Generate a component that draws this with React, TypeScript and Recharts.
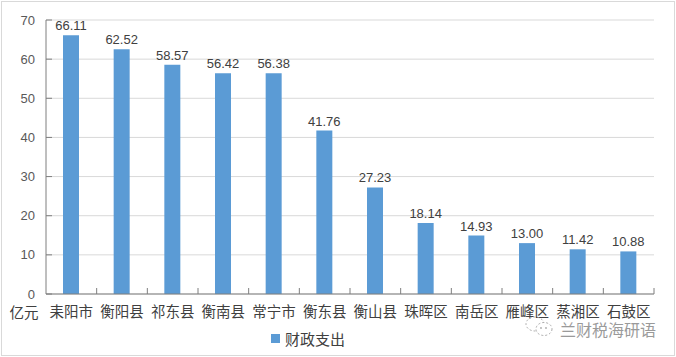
import React from "react";
import { BarChart, Bar, XAxis, YAxis, CartesianGrid, Legend, LabelList } from "recharts";

const categories = ["耒阳市", "衡阳县", "祁东县", "衡南县", "常宁市", "衡东县", "衡山县", "珠晖区", "南岳区", "雁峰区", "蒸湘区", "石鼓区"];
const spending = [66.11, 62.52, 58.57, 56.42, 56.38, 41.76, 27.23, 18.14, 14.93, 13.0, 11.42, 10.88];
const yTicks = [0, 10, 20, 30, 40, 50, 60, 70];
const seriesName = "财政支出";
const unitLabel = "亿元";
const watermark = "兰财税海研语";

const W = 676;
const H = 357;
const BLUE = "#5b9bd5";
const AXIS = "#7f7f7f";
const TEXT = "#404040";
const NUM_FONT = "'Liberation Sans', Arial, sans-serif";
const CJK_FONT = "'Noto Sans CJK SC', 'Noto Sans', sans-serif";

const data = categories.map((name, i) => ({ name, value: spending[i] }));

// 刻度线朝内（Excel风格）
const YTick = (props: any) => {
  const { x, y, payload } = props;
  return (
    <g>
      <line x1={x} x2={x + 6} y1={y} y2={y} stroke={AXIS} />
      <text x={x - 11} y={y} dy={4.5} textAnchor="end" fontSize={13} fill="#595959" fontFamily={NUM_FONT}>
        {payload.value}
      </text>
    </g>
  );
};

const XTick = (props: any) => {
  const { x, y, payload, index } = props;
  const band = (W - 46 - 22) / categories.length;
  return (
    <g>
      <line x1={x + band / 2} x2={x + band / 2} y1={y - 6} y2={y} stroke={AXIS} />
      <text x={x} y={y} dy={23} textAnchor="middle" fontSize={14.5} fill={TEXT} fontFamily={CJK_FONT}>
        {payload.value}
      </text>
      {index === 0 && (
        <text x={24} y={y} dy={23.5} textAnchor="middle" fontSize={14.5} fill={TEXT} fontFamily={CJK_FONT}>
          {unitLabel}
        </text>
      )}
    </g>
  );
};

const LegendContent = () => (
  <div style={{ position: "relative", height: 22 }}>
    <span style={{ position: "absolute", left: 265, top: 6, width: 9, height: 9, background: BLUE }} />
    <span
      style={{
        position: "absolute",
        left: 279,
        top: 0,
        lineHeight: "22px",
        fontSize: 15,
        color: TEXT,
        fontFamily: CJK_FONT,
        whiteSpace: "nowrap",
      }}
    >
      {seriesName}
    </span>
  </div>
);

export default function App() {
  return (
    <div style={{ position: "absolute", left: 0, top: 0, width: W, height: H, background: "#fff" }}>
      <BarChart
        width={W}
        height={H}
        data={data}
        margin={{ top: 20, right: 22, left: 6, bottom: 7 }}
        barCategoryGap={0}
      >
        <CartesianGrid vertical={false} stroke="#d9d9d9" />
        <XAxis
          dataKey="name"
          interval={0}
          height={34}
          tickSize={0}
          tickMargin={0}
          tickLine={false}
          axisLine={{ stroke: AXIS }}
          tick={<XTick />}
        />
        <YAxis
          width={40}
          domain={[0, 70]}
          ticks={yTicks}
          interval={0}
          tickSize={0}
          tickMargin={0}
          tickLine={false}
          axisLine={{ stroke: AXIS }}
          tick={<YTick />}
        />
        <Legend verticalAlign="bottom" align="left" content={<LegendContent />} />
        <Bar dataKey="value" name={seriesName} fill={BLUE} barSize={16} isAnimationActive={false}>
          <LabelList
            dataKey="value"
            position="top"
            offset={5}
            formatter={(v: any) => Number(v).toFixed(2)}
            style={{ fontSize: 13, fill: TEXT, fontFamily: NUM_FONT }}
          />
        </Bar>
      </BarChart>
      <div style={{ position: "absolute", left: 522, top: 312, width: 140, height: 28, pointerEvents: "none" }}>
        <svg width={34} height={28} style={{ position: "absolute", left: 0, top: 0 }}>
          <ellipse cx={13} cy={12} rx={9} ry={7} fill="none" stroke="#aaa" strokeDasharray="2 2" />
          <ellipse cx={22} cy={17} rx={8} ry={6.5} fill="#fff" stroke="#aaa" strokeDasharray="2 2" />
          <circle cx={19} cy={16} r={0.9} fill="#aaa" />
          <circle cx={24} cy={16} r={0.9} fill="#aaa" />
        </svg>
        <span
          style={{
            position: "absolute",
            left: 38,
            top: 11,
            fontSize: 16,
            lineHeight: "12px",
            color: "#9a9a9a",
            fontFamily: CJK_FONT,
            whiteSpace: "nowrap",
          }}
        >
          {watermark}
        </span>
      </div>
      <div
        style={{
          position: "absolute",
          left: 1,
          top: 1,
          width: W - 2,
          height: H - 2,
          boxSizing: "border-box",
          border: "1px solid #d9d9d9",
          pointerEvents: "none",
        }}
      />
    </div>
  );
}
